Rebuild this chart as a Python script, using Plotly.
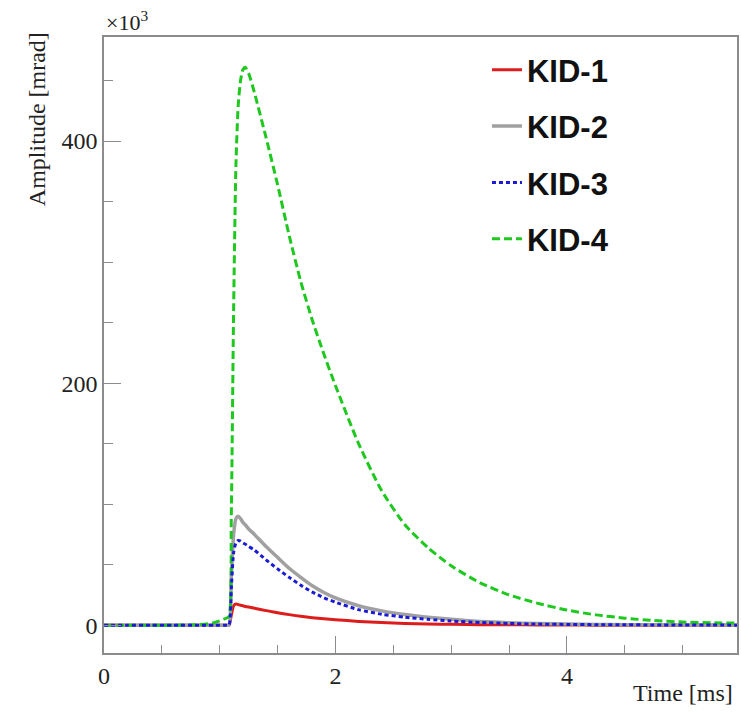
import plotly.graph_objects as go

# time grid [ms]
time_ms = [0, 0.2, 0.4, 0.6, 0.8, 0.9, 0.95, 1.0, 1.05, 1.08, 1.10, 1.12, 1.14, 1.16, 1.18,
           1.20, 1.22, 1.25, 1.30, 1.40, 1.50, 1.60, 1.70, 1.80, 1.90, 2.00, 2.20, 2.40,
           2.60, 2.80, 3.00, 3.25, 3.50, 3.75, 4.00, 4.25, 4.50, 4.75, 5.00, 5.25, 5.47]

# amplitudes [x10^3 mrad]
kid1 = [0, 0, 0, 0, 0, 0, 0, 0, 0, 0, 8, 16, 17.5, 17, 16.5,
        16, 15.5, 15, 14, 12, 10.3, 8.7, 7.3, 6.2, 5.3, 4.5, 3.1, 2.1,
        1.4, 1.0, 0.7, 0.4, 0.3, 0.2, 0.1, 0, 0, 0, 0, 0, 0]
kid2 = [0, 0, 0, 0, 0, 0, 0, 0, 0, 0, 40, 75, 88, 90, 88,
        85, 83, 79.5, 75, 65, 56, 47, 39.5, 32.5, 27, 22.5, 16, 11.8,
        8.8, 6.6, 4.8, 3.1, 2.0, 1.3, 0.9, 0.6, 0.4, 0.3, 0.2, 0.1, 0.1]
kid3 = [0, 0, 0, 0, 0, 0, 0, 0, 0, 0, 30, 60, 68, 70, 69.5,
        68, 67, 65, 62, 54, 46.5, 39.5, 33, 27.3, 22.7, 19, 12.8, 9,
        6.6, 4.8, 3.4, 2.2, 1.4, 0.9, 0.6, 0.4, 0.3, 0.2, 0.1, 0.1, 0]
kid4 = [0, 0, 0, 0, 0.3, 1.2, 2, 3.5, 5.5, 7, 90, 260, 380, 430, 450,
        459, 461, 456, 440, 403, 364, 322, 284, 252, 224, 198, 150, 111,
        83, 64, 49, 35, 25, 18, 12.5, 8.5, 5.8, 3.8, 2.6, 2.0, 1.7]

names = ["KID-1", "KID-2", "KID-3", "KID-4"]
colors = ["#dd1c1c", "#a0a0a0", "#1a1ad6", "#1ec81e"]

fig = go.Figure()
specs = [  # (values, name, color, width, dash, legendrank) in drawing order
    (kid1, names[0], colors[0], 3, "solid", 1),
    (kid2, names[1], colors[1], 3.5, "solid", 2),
    (kid4, names[3], colors[3], 3, "8px,4px", 4),
    (kid3, names[2], colors[2], 3, "4px,3px", 3),
]
for vals, nm, col, w, dash, rank in specs:
    fig.add_trace(go.Scatter(
        x=time_ms, y=vals, mode="lines", name=nm, legendgroup=nm, legendrank=rank,
        line=dict(color=col, width=w, dash=dash, shape="spline", smoothing=0.6),
    ))

axis_line = "#8c8c8c"
tick_font = dict(family="Liberation Serif", size=24, color="#222222")

fig.update_layout(
    width=741, height=714,
    margin=dict(l=104, r=2, t=37, b=61),
    paper_bgcolor="white", plot_bgcolor="white",
    showlegend=True,
    legend=dict(
        x=0.605, y=0.99, xanchor="left", yanchor="top",
        font=dict(family="Liberation Sans", size=31, color="#111111", weight="bold"),
        traceorder="grouped", tracegroupgap=13, bgcolor="rgba(0,0,0,0)",
    ),
    xaxis=dict(
        range=[0, 5.47], showgrid=False, zeroline=False,
        showline=True, linecolor=axis_line, linewidth=1.5, mirror=True,
        ticks="inside", ticklen=17, tickcolor=axis_line, tickwidth=1.2,
        dtick=2, tick0=0, tickfont=tick_font,
        minor=dict(dtick=0.5, tick0=0, ticks="inside", ticklen=8,
                   tickcolor=axis_line, tickwidth=1.2),
    ),
    yaxis=dict(
        range=[-23, 486], showgrid=False, zeroline=False,
        showline=True, linecolor=axis_line, linewidth=1.5, mirror=True,
        ticks="inside", ticklen=17, tickcolor=axis_line, tickwidth=1.2,
        dtick=200, tick0=0, tickfont=tick_font,
        minor=dict(dtick=50, tick0=0, ticks="inside", ticklen=9,
                   tickcolor=axis_line, tickwidth=1.2),
    ),
    annotations=[
        dict(text="Time [ms]", xref="paper", yref="paper", x=0.997, y=-0.065,
             xanchor="right", yanchor="middle", showarrow=False,
             font=dict(family="Liberation Serif", size=24, color="#222222")),
        dict(text="Amplitude [mrad]", xref="paper", yref="paper", x=-0.106, y=1.011,
             xanchor="center", yanchor="top", textangle=-90, showarrow=False,
             font=dict(family="Liberation Serif", size=24, color="#222222")),
        dict(text="×10<sup>3</sup>", xref="paper", yref="paper", x=0.0, y=1.0,
             xanchor="left", yanchor="bottom", showarrow=False,
             font=dict(family="Liberation Serif", size=22, color="#222222")),
    ],
)

fig.write_html("out.html")
